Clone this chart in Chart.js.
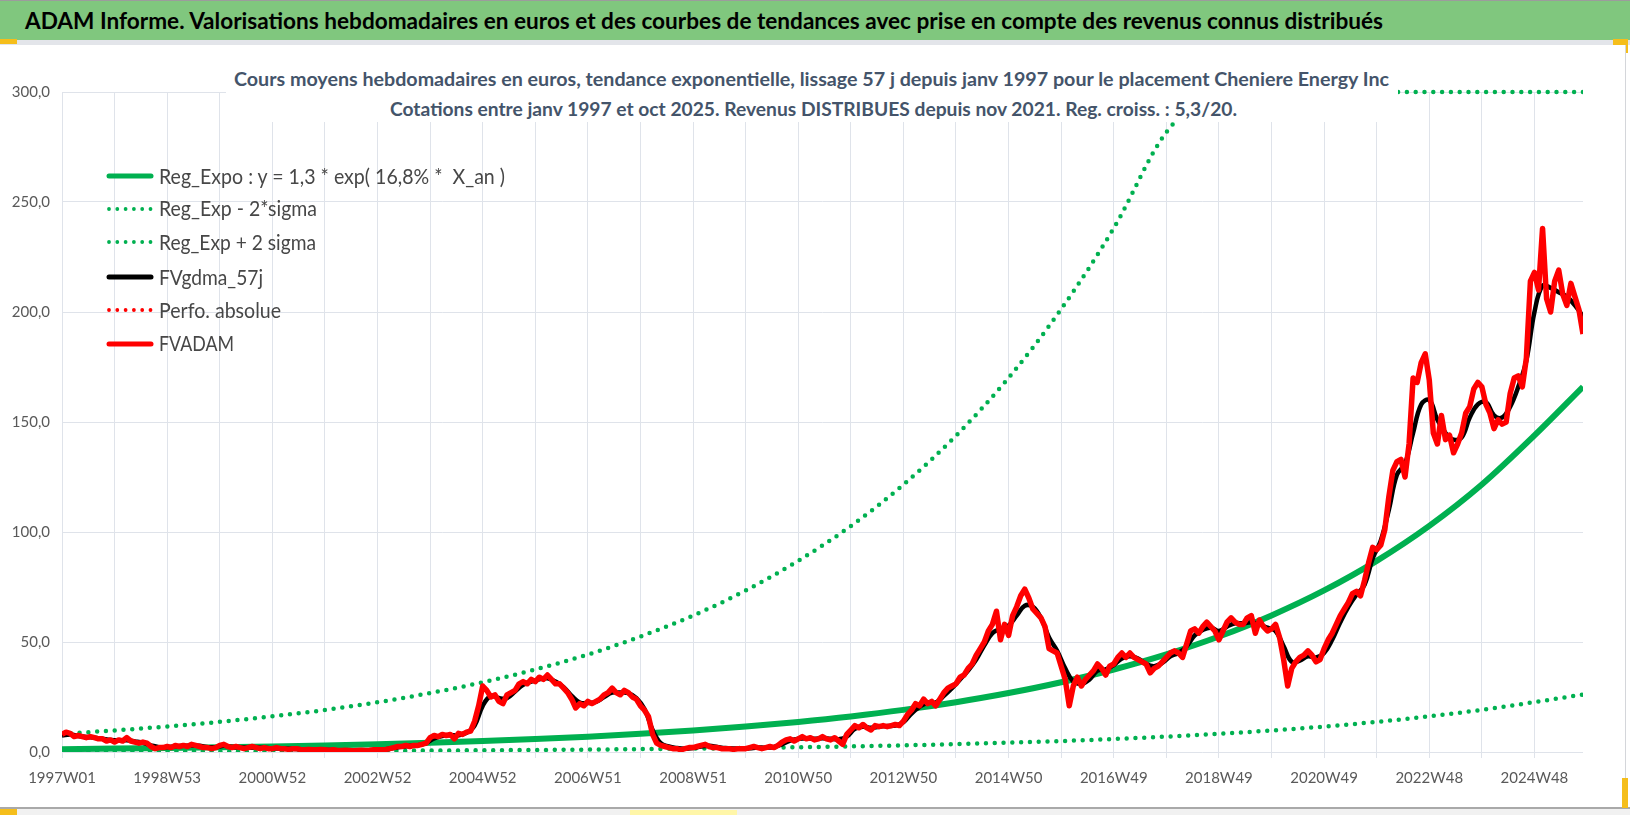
<!DOCTYPE html>
<html><head><meta charset="utf-8">
<script src="https://cdn.jsdelivr.net/npm/chart.js@4.4.1/dist/chart.umd.min.js"></script>
<style>
html,body{margin:0;padding:0;background:#fff;}
#wrap{position:relative;width:1630px;height:815px;overflow:hidden;background:#fff;font-family:Lato,'Open Sans',sans-serif;}
#c{position:absolute;left:0;top:0;}
.abs{position:absolute;}
.fit{position:absolute;white-space:pre;transform-origin:0 50%;line-height:1;}
</style></head><body>
<div id="wrap">
<canvas id="c" width="1630" height="815"></canvas>
<div class="abs" style="left:0;top:0;width:1630px;height:1px;background:#9c9c9c"></div>
<div class="abs" style="left:0;top:1px;width:1630px;height:39px;background:#80c77e"></div>
<div class="abs" style="left:0;top:40px;width:1630px;height:5px;background:#e3e5ea"></div>
<div class="abs" style="left:0;top:39px;width:17px;height:5px;background:#f5be1b"></div>
<div class="abs" style="left:1613px;top:39px;width:15px;height:6px;background:#f5be1b"></div>
<div class="abs" style="left:1625px;top:39px;width:3px;height:14px;background:#f5be1b"></div>
<div class="abs" style="left:1625px;top:45px;width:1px;height:763px;background:#d4d6da"></div>
<div class="abs" style="left:0;top:807px;width:1630px;height:2px;background:#a9a9a9"></div>
<div class="abs" style="left:0;top:809px;width:1630px;height:6px;background:#f1f1f1"></div>
<div class="abs" style="left:0;top:809px;width:17px;height:6px;background:#f5be1b"></div>
<div class="abs" style="left:630px;top:810px;width:107px;height:5px;background:#fff6a8"></div>
<div class="abs" style="left:1622px;top:778px;width:6px;height:30px;background:#f5be1b"></div>
<!-- white box behind the subtitle -->
<div class="abs" style="left:226px;top:60px;width:1172px;height:62px;background:#fff"></div>

<div class="fit" id="title" data-l="25" data-r="1383" data-cy="22" style="font-size:22px;font-weight:700;color:#000">ADAM Informe. Valorisations hebdomadaires en euros et des courbes de tendances avec prise en compte des revenus connus distribués</div>
<div class="fit" data-l="234" data-r="1389" data-cy="79.5" style="font-size:18.5px;font-weight:700;color:#44546a">Cours moyens hebdomadaires en euros, tendance exponentielle, lissage 57 j depuis janv 1997 pour le placement Cheniere Energy Inc</div>
<div class="fit" data-l="390" data-r="1237" data-cy="110" style="font-size:18.5px;font-weight:700;color:#44546a">Cotations entre janv 1997 et oct 2025. Revenus DISTRIBUES depuis nov 2021. Reg. croiss. : 5,3/20.</div>

<div id="legend"></div>
</div>
<script>
// ---------- DATA ----------
// x values are weeks counted from 1997W01
const tickWeeks  = [0,104,208,312,416,520,624,728,832,936,1040,1144,1248,1352,1456];
const tickLabels = ['1997W01','1998W53','2000W52','2002W52','2004W52','2006W51','2008W51','2010W50','2012W50','2014W50','2016W49','2018W49','2020W49','2022W48','2024W48'];
const gridWeeks  = [0,52,104,156,208,260,312,364,416,468,520,572,624,676,728,780,832,884,936,988,1040,1092,1144,1196,1248,1300,1352,1404,1456];
const lastWeek = 1504;
const yTicks = [0,50,100,150,200,250,300];

// trend curves, one value per 52 weeks + last week
const trendWeeks = [0,52,104,156,208,260,312,364,416,468,520,572,624,676,728,780,832,884,936,988,1040,1092,1144,1196,1248,1300,1352,1404,1456,1504];
const regExpo = [1.30,1.54,1.82,2.15,2.55,3.01,3.56,4.22,4.99,5.90,6.98,8.26,9.77,11.56,13.68,16.18,19.14,22.65,26.79,31.70,37.5,44.36,52.48,62.09,73.45,86.9,102.8,121.6,143.9,166];
const regMinus = [0.20,0.24,0.29,0.34,0.40,0.47,0.56,0.66,0.79,0.93,1.10,1.30,1.54,1.82,2.15,2.55,3.01,3.57,4.22,4.99,5.91,6.99,8.26,9.78,11.57,13.69,16.19,19.15,22.66,26.1];
const regPlus = [8.3,9.8,11.6,13.7,16.2,19.1,22.6,26.8,31.7,37.5,44.3,52.5,62.0,73.4,86.9,102.7,121.5,143.8,170.1,201.3,238.1,281.7,300,300,300,300,300,300,300,300];

// FVADAM weekly valuation, one value every 4 weeks
const fvadamStep = 4;
const fvadam = [
 8,9,8.5,7,7.5,7,6.5,7,6.5,6,6,5,5.5,
 4.5,5.5,5,6.5,5,4.5,4,4.5,4,2.5,1.5,2,2,
 2.5,2,3,2.5,3,2.5,3.5,3,2.5,2,2,1.5,2,
 3,3.5,2.5,2,2.5,2,1.5,2,2.5,2,1.5,2,1.5,
 1.5,2,1.5,1.5,1.2,1.5,1.5,1.2,1,1.2,1,1,1.2,
 1,0.8,1,0.8,0.7,0.8,0.7,0.6,0.7,0.8,0.7,0.8,1,
 1,1,1.2,1.5,2,2.5,2.5,3,2.5,3,3,3.5,4,
 6.5,7.5,7,8,7.5,8,6,8.5,8,9,9.5,14,21,
 30,28,25,26,23,22,26,27,28,31,32,31,33,
 32,34,33,35,33,31,31,29,27,24,20,22,21,
 23,22,23,24,26,27,29,27,26,28,27,25,24,
 21,19,16,8,4,3,2.5,2,1.5,1.5,1,1.5,2,
 2,2.5,3,3.5,2.5,2,2,1.5,1.5,1.5,1.2,1.5,1.5,
 1.5,2,2.5,2,1.5,2,2.5,2,3,4.5,5.5,6,5,
 6,7,6,6.5,5.5,6,7,6,5.5,6.5,5,3.5,8,
 10,12,11,12.5,11,10,12,11.5,12,11.5,12,12.5,12,
 14,17,19,22,21,24,22,23,21,24,27,29,30,
 31,34,35,38,40,44,47,50,55,58,64,51,58,
 53,62,66,71,74,70,65,63,61,57,47,46,45,
 39,33,21,30,34,30,33,35,37,40,38,35,39,
 40,43,45,43,45,43,42,41,40,36,38,39,41,
 43,45,46,45,43,49,55,56,54,57,59,57,55,
 51,55,59,61,59,58,58,61,62,54,60,57,55,
 56,58,52,42,30,38,41,43,44,46,44,41,42,
 47,51,54,58,62,65,68,72,73,71,78,86,93,
 92,94,101,116,128,132,133,125,140,170,168,177,181,
 169,145,140,153,142,144,136,140,145,154,157,165,168,
 166,158,154,147,151,149,150,163,170,171,166,179,214,
 218,210,238,206,200,214,219,208,203,213,207,201,190
];

// FVgdma_57j smoothed valuation, one value every 8 weeks
const gdmaStep = 8;
const gdma = [
 7.5,8,7.3,6.8,6.5,6,5.5,
 5.3,5.3,4.8,4.2,3,2.2,
 2.2,2.6,2.8,3,2.8,2.2,2.2,
 2.8,2.3,2.1,2,2.1,1.9,
 1.7,1.6,1.5,1.4,1.2,1.1,1.1,
 0.9,0.8,0.75,0.7,0.75,0.8,
 1,1.2,1.8,2.4,2.8,3.1,4,
 6.2,7.3,7.6,7.6,8.7,12,
 21,25.5,24.5,24.5,27.5,30.5,32,
 33,33.5,32,29.5,25.5,22.5,
 22.3,22.8,25,27,27,26.8,24.5,
 19.5,10,4,2.5,1.8,1.5,
 1.8,2.5,2.8,2.3,1.8,1.6,1.5,
 1.7,2,2,2.3,3.5,5.2,
 6,6.3,6,6.3,6,5.8,7,
 10.5,11.5,11,11.5,11.8,12,
 13.5,17.5,20.5,22.5,22.5,25.5,29,
 33,37,42,48.5,54,56,
 57.5,62,66.5,66,61,52,46,
 38,32,31,33,37,37.5,
 39.5,42.5,43.5,42.5,40,39,40.5,
 43.5,45,48,53,55.5,56.5,
 55,57,58.5,58.5,59,58,56.5,
 55,48,41,41.5,43.5,43,
 45,51,59,66,71.5,76,88,
 96,110,126,131,145,158,160,
 151,145,142,143,152,158,
 159,153,152,157,166,178,
 200,212,211,209,207,203,198
];
const perfoAbsolue = [];

// ---------- BUILD ----------
const GREEN = '#00b050', RED = '#ff0000', BLACK = '#000000';
const pairs = (xs, ys) => ys.map((v, i) => ({x: xs[i], y: v}));
const stepped = (step, ys) => ys.map((v, i) => ({x: i * step, y: v}));

function hasFont(name){
  const c = document.createElement('canvas').getContext('2d');
  const t = '1997W01 300,0 abcdefghij';
  c.font = '16px monospace'; const a = c.measureText(t).width;
  c.font = '16px "' + name + '", monospace'; const b = c.measureText(t).width;
  return Math.abs(a - b) > 0.5;
}
const tickFont = hasFont('Liberation Sans Narrow') ? {family: "'Liberation Sans Narrow'", size: 17} : {family: 'Lato', size: 15};
const GRID = '#dfe3ea';

const legendItems = [
  {label: 'Reg_Expo : y = 1,3 * exp( 16,8% *  X_an )', color: GREEN, dotted: false, r: 505},
  {label: 'Reg_Exp - 2*sigma', color: GREEN, dotted: true, r: 317},
  {label: 'Reg_Exp + 2 sigma', color: GREEN, dotted: true, r: 316},
  {label: 'FVgdma_57j', color: BLACK, dotted: false, r: 263},
  {label: 'Perfo. absolue', color: RED, dotted: true, r: 281},
  {label: 'FVADAM', color: RED, dotted: false, r: 234}
];
const legendRows = [175.7, 208.5, 242, 277, 310, 343.5];

const chart = new Chart(document.getElementById('c'), {
  type: 'line',
  data: {
    datasets: [
      {label: 'FVADAM', data: stepped(fvadamStep, fvadam), borderColor: RED, borderWidth: 5.5, pointRadius: 0, tension: 0, order: 0, borderJoinStyle: 'round'},
      {label: 'Perfo. absolue', data: perfoAbsolue, borderColor: RED, borderWidth: 3, borderDash: [0, 7], borderCapStyle: 'round', pointRadius: 0, order: 1},
      {label: 'FVgdma_57j', data: stepped(gdmaStep, gdma), borderColor: BLACK, borderWidth: 4.5, pointRadius: 0, tension: 0.4, order: 2},
      {label: 'Reg_Exp + 2 sigma', data: pairs(trendWeeks, regPlus), borderColor: GREEN, borderWidth: 4.5, borderDash: [0, 8.8], borderCapStyle: 'round', pointRadius: 0, cubicInterpolationMode: 'monotone', order: 3, clip: {left: 0, top: 4, right: 0, bottom: 0}},
      {label: 'Reg_Exp - 2*sigma', data: pairs(trendWeeks, regMinus), borderColor: GREEN, borderWidth: 4.5, borderDash: [0, 8.8], borderCapStyle: 'round', pointRadius: 0, cubicInterpolationMode: 'monotone', order: 4},
      {label: 'Reg_Expo', data: pairs(trendWeeks, regExpo), borderColor: GREEN, borderWidth: 6, pointRadius: 0, cubicInterpolationMode: 'monotone', order: 5}
    ]
  },
  options: {
    responsive: false,
    animation: false,
    events: [],
    layout: {padding: {left: 0, top: 92, right: 47, bottom: 0}},
    plugins: {legend: {display: false}, tooltip: {enabled: false}, title: {display: false}},
    scales: {
      x: {
        type: 'linear', min: 0, max: lastWeek,
        afterBuildTicks: s => { s.ticks = gridWeeks.map(v => ({value: v})); },
        afterFit: s => { s.height = 63; },
        grid: {color: GRID, lineWidth: 1, drawTicks: true, tickLength: 6, tickColor: GRID},
        border: {display: false},
        ticks: {
          autoSkip: false, maxRotation: 0, minRotation: 0, padding: 11,
          color: '#595959', font: tickFont,
          callback: v => { const i = tickWeeks.indexOf(v); return i >= 0 ? tickLabels[i] : ''; }
        }
      },
      y: {
        min: 0, max: 300,
        afterBuildTicks: s => { s.ticks = yTicks.map(v => ({value: v})); },
        afterFit: s => { s.width = 62; },
        grid: {color: GRID, lineWidth: 1, drawTicks: false},
        border: {display: false},
        ticks: {padding: 12, color: '#595959', font: tickFont, callback: v => v.toFixed(1).replace('.', ',')}
      }
    }
  }
});

// ---------- HTML legend ----------
const leg = document.getElementById('legend');
legendItems.forEach((it, i) => {
  const cy = legendRows[i];
  const svg = document.createElementNS('http://www.w3.org/2000/svg', 'svg');
  svg.setAttribute('width', '48'); svg.setAttribute('height', '10');
  svg.style.position = 'absolute'; svg.style.left = '106px'; svg.style.top = (cy - 5) + 'px';
  const ln = document.createElementNS('http://www.w3.org/2000/svg', 'line');
  ln.setAttribute('x1', '3'); ln.setAttribute('x2', '45');
  ln.setAttribute('y1', '5'); ln.setAttribute('y2', '5');
  ln.setAttribute('stroke', it.color); ln.setAttribute('stroke-linecap', 'round');
  ln.setAttribute('stroke-width', it.dotted ? '3.8' : '5');
  if (it.dotted) ln.setAttribute('stroke-dasharray', '0 8.3');
  svg.appendChild(ln); leg.appendChild(svg);
  const t = document.createElement('div');
  t.className = 'fit'; t.textContent = it.label;
  t.dataset.l = 159; t.dataset.r = it.r; t.dataset.cy = cy;
  t.style.fontSize = '21px'; t.style.color = '#474747';
  leg.appendChild(t);
});

function fitAll(){
  document.querySelectorAll('.fit').forEach(el => {
    const l = +el.dataset.l, r = +el.dataset.r, cy = +el.dataset.cy, fs = parseFloat(el.style.fontSize);
    el.style.transform = 'none';
    el.style.left = l + 'px';
    const w = el.getBoundingClientRect().width;
    el.style.top = (cy - 0.527 * fs) + 'px';
    el.style.transform = 'scaleX(' + ((r - l) / w) + ')';
  });
}
fitAll();
if (document.fonts && document.fonts.ready) document.fonts.ready.then(fitAll);
</script>
</body></html>
